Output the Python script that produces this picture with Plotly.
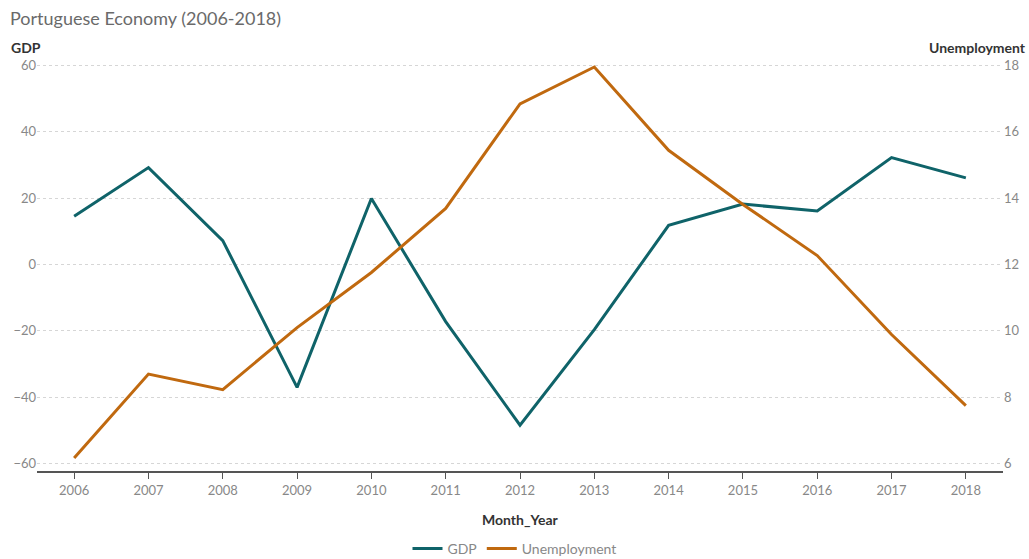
import plotly.graph_objects as go

years = [2006, 2007, 2008, 2009, 2010, 2011, 2012, 2013, 2014, 2015, 2016, 2017, 2018]
gdp = [14.5, 29.2, 7.2, -37.0, 19.9, -17.2, -48.4, -19.6, 11.8, 18.2, 16.1, 32.2, 26.1]
unemployment = [6.17, 8.70, 8.23, 10.1, 11.76, 13.69, 16.84, 17.95, 15.44, 13.81, 12.27, 9.89, 7.75]

GDP_COLOR = "#0F6369"
UNEMP_COLOR = "#C0690F"
FONT = "Lato, 'Open Sans', sans-serif"

fig = go.Figure()
fig.add_trace(go.Scatter(x=years, y=gdp, name="GDP", mode="lines",
                         line=dict(color=GDP_COLOR, width=3), yaxis="y"))
fig.add_trace(go.Scatter(x=years, y=unemployment, name="Unemployment", mode="lines",
                         line=dict(color=UNEMP_COLOR, width=3), yaxis="y2"))

grid = dict(showgrid=True, gridcolor="#d6d6d6", griddash="dot", gridwidth=1)

fig.update_layout(
    width=1029, height=559,
    margin=dict(l=37, r=26, t=62, b=88),
    paper_bgcolor="white", plot_bgcolor="white",
    font=dict(family=FONT, size=13, color="#888888"),
    showlegend=True,
    legend=dict(orientation="h", x=0.5, xref="container", xanchor="center",
                y=(559 - 549) / 559, yref="container", yanchor="middle",
                font=dict(size=14, color="#888888")),
    xaxis=dict(range=[2005.5, 2018.5], tickmode="array", tickvals=years,
               ticktext=[str(y) for y in years], showgrid=False, zeroline=False,
               showline=True, linecolor="#555555", linewidth=2,
               ticks="outside", ticklen=6, tickcolor="#555555", tickwidth=1,
               automargin=False, tickfont=dict(size=13, color="#888888")),
    yaxis=dict(range=[-62.2, 61.0], tickvals=[-60, -40, -20, 0, 20, 40, 60],
               zeroline=False, showline=False, ticks="", automargin=False,
               tickfont=dict(size=13, color="#888888"), **grid),
    yaxis2=dict(range=[5.78, 18.1], tickvals=[6, 8, 10, 12, 14, 16, 18],
                overlaying="y", side="right", zeroline=False, showline=False,
                showgrid=False, ticks="", automargin=False,
                tickfont=dict(size=13, color="#888888")),
)

fig.add_annotation(text="Portuguese Economy (2006-2018)", xref="paper", yref="paper",
                   x=-29/966, y=1 + (62 - 18) / 409, xanchor="left", yanchor="middle",
                   showarrow=False, font=dict(size=18, color="#6a6a6a", family=FONT))
fig.add_annotation(text="<b>GDP</b>", xref="paper", yref="paper",
                   x=-28/966, y=1 + (62 - 47) / 409, xanchor="left", yanchor="middle",
                   showarrow=False, font=dict(size=14, color="#333333", family=FONT))
fig.add_annotation(text="<b>Unemployment</b>", xref="paper", yref="paper",
                   x=1 + 25/966, y=1 + (62 - 47) / 409, xanchor="right", yanchor="middle",
                   showarrow=False, font=dict(size=14, color="#333333", family=FONT))
fig.add_annotation(text="<b>Month_Year</b>", xref="paper", yref="paper",
                   x=(520 - 37) / 966, y=-(519 - 471) / 409, xanchor="center", yanchor="middle",
                   showarrow=False, font=dict(size=14, color="#333333", family=FONT))

fig.write_html("out.html")
